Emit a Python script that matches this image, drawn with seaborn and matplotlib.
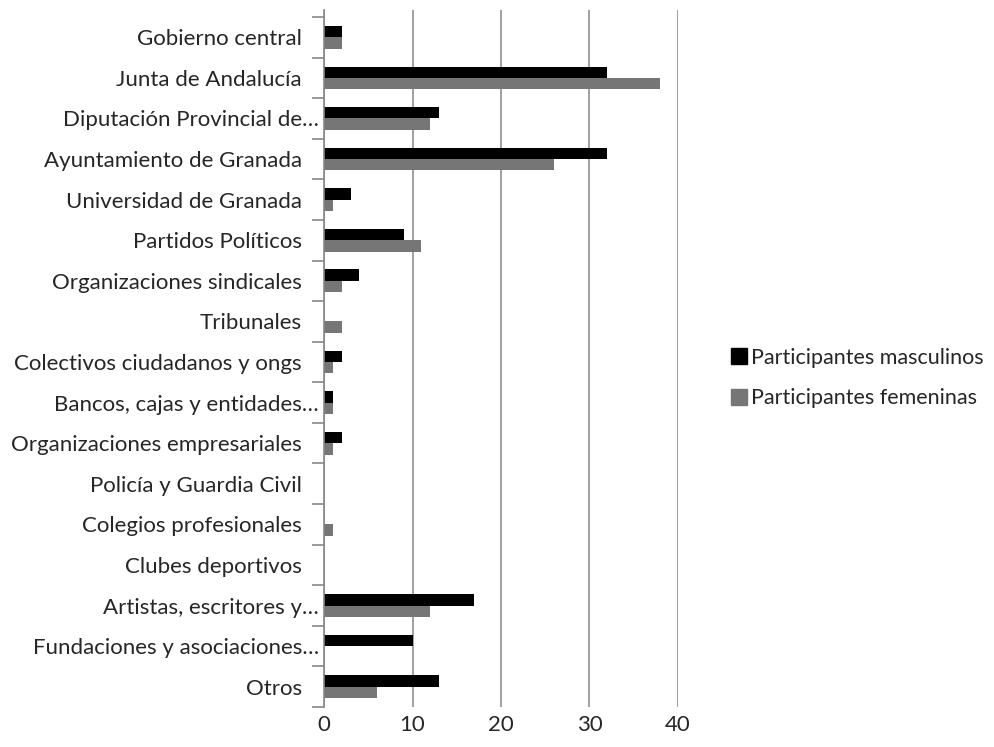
import matplotlib
matplotlib.use("Agg")
import matplotlib.pyplot as plt
import matplotlib.transforms as mtransforms
import seaborn as sns
import pandas as pd
import numpy as np
from matplotlib.lines import Line2D

categories = [
    "Gobierno central", "Junta de Andalucía", "Diputación Provincial de…",
    "Ayuntamiento de Granada", "Universidad de Granada", "Partidos Políticos",
    "Organizaciones sindicales", "Tribunales", "Colectivos ciudadanos y ongs",
    "Bancos, cajas y entidades…", "Organizaciones empresariales",
    "Policía y Guardia Civil", "Colegios profesionales", "Clubes deportivos",
    "Artistas, escritores y…", "Fundaciones y asociaciones…", "Otros",
]
masculinos = [2, 32, 13, 32, 3, 9, 4, 0, 2, 1, 2, 0, 0, 0, 17, 10, 13]
femeninas = [2, 38, 12, 26, 1, 11, 2, 2, 1, 1, 1, 0, 1, 0, 12, 0, 6]
series = ["Participantes masculinos", "Participantes femeninas"]
colors = ["#000000", "#767676"]
xticks = [0, 10, 20, 30, 40]

df = pd.DataFrame({
    "cat": categories * 2,
    "val": masculinos + femeninas,
    "serie": [series[0]] * len(categories) + [series[1]] * len(categories),
})

sns.set_style("white")
plt.rcParams["font.family"] = ["Lato", "DejaVu Sans"]

fig = plt.figure(figsize=(9.94, 7.47), dpi=100)
# axes spans pixel rows 10..707
ax = fig.add_axes([0.326, 1 - 707 / 747, 0.682 - 0.326, (707 - 10) / 747])
sns.barplot(data=df, y="cat", x="val", hue="serie", orient="h",
            palette=colors, width=0.56, ax=ax, legend=False,
            saturation=1, edgecolor="none")

n = len(categories)
ax.set_xlim(0, 40)
ax.set_ylim(n - 0.5, -0.5 - 7 / 40.6)
ax.set_xticks(xticks)
ax.set_xticklabels([str(t) for t in xticks], fontsize=16, color="#262626")
ax.tick_params(axis="x", length=0, pad=6)
ax.tick_params(axis="y", which="major", left=False, length=0, pad=16,
               labelsize=16, labelcolor="#262626")
ax.set_yticks(np.arange(-0.5, n, 1.0), minor=True)
ax.tick_params(axis="y", which="minor", left=True, length=9, width=1.2,
               color="#868686")
ax.set_xlabel("")
ax.set_ylabel("")
ax.grid(axis="x", color="#868686", linewidth=1.1)
ax.set_axisbelow(True)
for s in ["top", "right", "bottom"]:
    ax.spines[s].set_visible(False)
ax.spines["left"].set_color("#868686")
ax.spines["left"].set_linewidth(1.2)

shift = mtransforms.ScaledTranslation(17 / 100, 0, fig.dpi_scale_trans)
for lab in ax.get_yticklabels():
    if lab.get_text().endswith("…"):
        lab.set_transform(lab.get_transform() + shift)

handles = [Line2D([0], [0], marker="s", linestyle="none", markersize=11,
                  markerfacecolor=c, markeredgecolor=c) for c in colors]
fig.legend(handles, series, loc="center left", bbox_to_anchor=(0.713, 0.494),
           frameon=False, fontsize=15.5, handletextpad=0.05, labelspacing=0.95,
           handlelength=1.0, labelcolor="#262626")

fig.savefig("out.png", dpi=100)
